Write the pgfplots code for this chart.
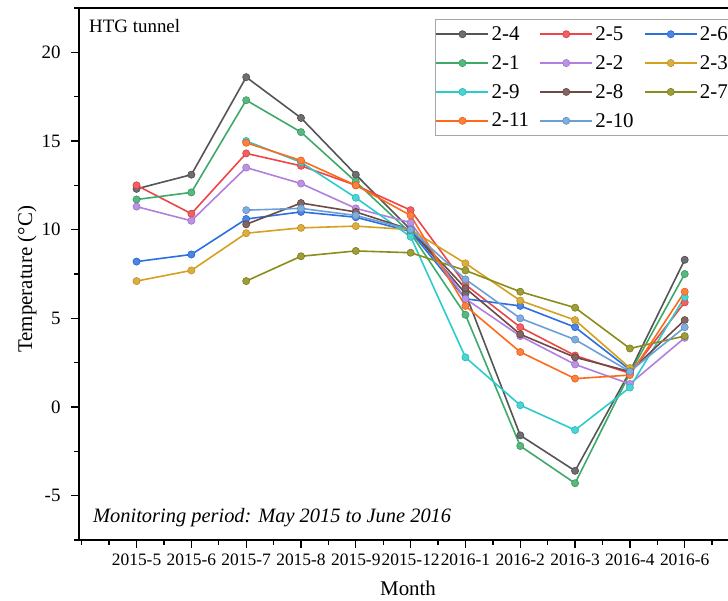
\documentclass[border=0pt]{standalone}
\usepackage{fontspec}
\setmainfont{Liberation Serif}
\usepackage{pgfplots}
\pgfplotsset{compat=1.18}
\definecolor{cA}{HTML}{555555}
\definecolor{cB}{HTML}{EE4548}
\definecolor{cC}{HTML}{2B6FE0}
\definecolor{cD}{HTML}{3DAA6A}
\definecolor{cE}{HTML}{B07FE0}
\definecolor{cF}{HTML}{D4A020}
\definecolor{cG}{HTML}{2BCCCC}
\definecolor{cH}{HTML}{6E4A47}
\definecolor{cI}{HTML}{8C8C1A}
\definecolor{cJ}{HTML}{FF6A1A}
\definecolor{cK}{HTML}{6A9FD8}
\pgfplotsset{
  ser/.style={color=#1, line width=1.6bp, mark=*, mark size=3.6bp,
    mark options={solid, fill=#1!85!white, draw=#1!90!black, line width=0.6bp}},
}
\begin{document}
\begin{tikzpicture}[x=1bp,y=1bp]
\useasboundingbox (0,0) rectangle (728,601);
\begin{axis}[
  at={(79bp,61bp)}, anchor=south west,
  width=649bp, height=532bp, scale only axis,
  xmin=-1.05, xmax=10.79, ymin=-7.5, ymax=22.5,
  axis x line*=bottom, axis y line*=left,
  axis line style={line width=1.3bp, -},
  xtick={0,...,10},
  xticklabels={2015-5,2015-6,2015-7,2015-8,2015-9,2015-12,2016-1,2016-2,2016-3,2016-4,2016-6},
  minor xtick={-1,-0.5,0.5,1.5,2.5,3.5,4.5,5.5,6.5,7.5,8.5,9.5,10.5},
  ytick={-5,0,...,20},
  minor ytick={-7.5,-2.5,2.5,7.5,12.5,17.5,22.5},
  tick align=outside, major tick length=8bp, minor tick length=5bp,
  every tick/.style={black, line width=1.3bp},
  xticklabel style={font=\fontsize{17.5}{17.5}\selectfont, yshift=-2bp},
  yticklabel style={font=\fontsize{19}{19}\selectfont, xshift=-7bp},
  /pgf/number format/assume math mode=true,
  xlabel={Month}, ylabel={Temperature (°C)},
  xlabel style={font=\fontsize{21}{21}\selectfont, at={(axis description cs:0.507,0)}, anchor=center, yshift=-48bp},
  ylabel style={font=\fontsize{21}{21}\selectfont, at={(axis description cs:-0.0801,0.49)}, anchor=center},
  legend columns=3,
  legend cell align=left,
  legend style={at={(rel axis cs:0.5485,0.979)}, anchor=north west,
    draw=gray!70, line width=0.8bp, font=\fontsize{21}{21}\selectfont,
    inner xsep=0bp, inner ysep=5bp, row sep=9.5bp,
    /tikz/every even column/.append style={column sep=8bp},
    /tikz/every odd column/.append style={column sep=0bp}},
  legend image code/.code={\draw[line width=2.2bp, mark repeat=2, mark phase=2] plot coordinates {(0bp,0bp)(26bp,0bp)(52bp,0bp)};},
]
% 2-4
\addplot[ser=cA] coordinates {(0,12.3)(1,13.1)(2,18.6)(3,16.3)(4,13.1)(5,10.0)(6,6.4)(7,-1.6)(8,-3.6)(9,2.0)(10,8.3)};
% 2-5
\addplot[ser=cB] coordinates {(0,12.5)(1,10.9)(2,14.3)(3,13.6)(4,12.5)(5,11.1)(6,6.9)(7,4.5)(8,2.9)(9,1.9)(10,5.9)};
% 2-6
\addplot[ser=cC] coordinates {(0,8.2)(1,8.6)(2,10.6)(3,11.0)(4,10.7)(5,9.9)(6,6.1)(7,5.7)(8,4.5)(9,2.1)};
% 2-1
\addplot[ser=cD] coordinates {(0,11.7)(1,12.1)(2,17.3)(3,15.5)(4,12.7)(5,9.8)(6,5.2)(7,-2.2)(8,-4.3)(9,1.9)(10,7.5)};
% 2-2
\addplot[ser=cE] coordinates {(0,11.3)(1,10.5)(2,13.5)(3,12.6)(4,11.2)(5,10.4)(6,6.1)(7,4.0)(8,2.4)(9,1.3)(10,3.9)};
% 2-3
\addplot[ser=cF] coordinates {(0,7.1)(1,7.7)(2,9.8)(3,10.1)(4,10.2)(5,10.0)(6,8.1)(7,6.0)(8,4.9)(9,2.2)};
% 2-9
\addplot[ser=cG] coordinates {(2,15.0)(3,13.8)(4,11.8)(5,9.6)(6,2.8)(7,0.1)(8,-1.3)(9,1.1)(10,6.2)};
% 2-8
\addplot[ser=cH] coordinates {(2,10.3)(3,11.5)(4,11.0)(5,10.0)(6,6.7)(7,4.1)(8,2.8)(9,2.0)(10,4.9)};
% 2-7
\addplot[ser=cI] coordinates {(2,7.1)(3,8.5)(4,8.8)(5,8.7)(6,7.7)(7,6.5)(8,5.6)(9,3.3)(10,4.0)};
% 2-11
\addplot[ser=cJ] coordinates {(2,14.9)(3,13.9)(4,12.5)(5,10.8)(6,5.7)(7,3.1)(8,1.6)(9,1.8)(10,6.5)};
% 2-10
\addplot[ser=cK] coordinates {(2,11.1)(3,11.2)(4,10.8)(5,10.0)(6,7.2)(7,5.0)(8,3.8)(9,2.0)(10,4.5)};
\legend{2-4,2-5,2-6,2-1,2-2,2-3,2-9,2-8,2-7,2-11,2-10}
\end{axis}
\draw[line width=1.3bp] (79,593) -- (740,593);
\node[anchor=base west, inner sep=0pt, font=\fontsize{19}{19}\selectfont] at (89,568) {HTG tunnel};
\node[anchor=base west, inner sep=0pt, font=\fontsize{20.5}{20.5}\selectfont\itshape] at (93,78) {Monitoring period: May 2015 to June 2016};
\end{tikzpicture}
\end{document}
